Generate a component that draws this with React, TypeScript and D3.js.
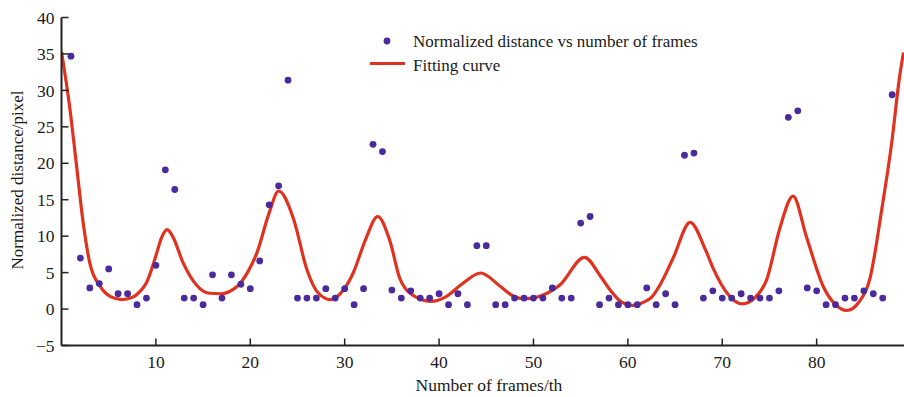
import * as d3 from 'd3';

// measured normalized distance for frames 1..88
const distances = [
  34.7, 7.0, 2.9, 3.5, 5.5, 2.1, 2.1, 0.6, 1.5, 6.0,
  19.1, 16.4, 1.5, 1.5, 0.6, 4.7, 1.5, 4.7, 3.4, 2.8,
  6.6, 14.3, 16.9, 31.4, 1.5, 1.5, 1.5, 2.8, 1.5, 2.8,
  0.6, 2.8, 22.6, 21.6, 2.6, 1.5, 2.5, 1.5, 1.5, 2.1,
  0.6, 2.1, 0.6, 8.7, 8.7, 0.6, 0.6, 1.5, 1.5, 1.5,
  1.5, 2.9, 1.5, 1.5, 11.8, 12.7, 0.6, 1.5, 0.6, 0.6,
  0.6, 2.9, 0.6, 2.1, 0.6, 21.1, 21.4, 1.5, 2.5, 1.5,
  1.5, 2.1, 1.5, 1.5, 1.5, 2.5, 26.3, 27.2, 2.9, 2.5,
  0.6, 0.6, 1.5, 1.5, 2.5, 2.1, 1.5, 29.4,
];

// fitting curve (frame, value)
const fitFrames = [
  0, 0.9, 1.6, 2.3, 3.0, 4.1, 5.2, 6.4, 7.5, 8.3, 9.0, 10.0, 10.6, 11.2, 11.8,
  12.9, 14.3, 15.5, 16.8, 18.6, 19.7, 20.7, 22.0, 23.0, 24.6, 26.0, 27.2, 28.5,
  29.8, 30.9, 32.2, 33.5, 34.8, 35.9, 37.6, 39.2, 40.6, 42.4, 44.4, 46.4, 47.7,
  48.9, 50.5, 52.8, 55.4, 57.1, 58.1, 59.3, 60.5, 61.6, 62.5, 63.4, 64.8, 66.6,
  68.2, 69.1, 70.5, 72.1, 73.5, 74.7, 76.1, 77.5, 78.9, 80.7, 82.0, 83.2, 84.5,
  85.7, 86.9, 87.95, 88.8, 89.2,
];
const fitValues = [
  35.3, 27.4, 19.6, 11.8, 6.3, 3.1, 1.7, 1.3, 1.6, 2.4, 3.6, 7.3, 9.8, 10.9, 9.9,
  6.3, 3.3, 2.2, 2.1, 3.1, 5.0, 7.7, 13.2, 16.2, 12.3, 5.4, 2.2, 1.3,
  2.5, 4.95, 9.5, 12.7, 9.3, 4.0, 1.6, 1.05, 1.6, 3.4, 4.95, 3.2, 1.9,
  1.4, 1.7, 3.3, 7.1, 4.5, 2.65, 1.0, 0.5, 0.9, 1.6, 3.3, 7.0, 11.9,
  8.2, 5.4, 2.2, 0.7, 1.6, 4.0, 11.1, 15.5, 10.0, 3.1, 0.6, -0.2, 1.0,
  4.5, 13.7, 22.8, 32.0, 35.2,
];

const xTicks = [10, 20, 30, 40, 50, 60, 70, 80];
const yTicks = [-5, 0, 5, 10, 15, 20, 25, 30, 35, 40];

const W = 904;
const H = 397;
const left = 61.5;
const right = 903.5;
const top = 17.5;
const bottom = 345.5;

const font = '"Liberation Serif", "Times New Roman", serif';
const dotColor = '#4a2a9c';
const lineColor = '#e0321f';
const axisColor = '#222';
const textColor = '#1a1a1a';

export default function App() {
  const x = d3.scaleLinear().domain([0, 89.2]).range([left, right]);
  const y = d3.scaleLinear().domain([-5, 40]).range([bottom, top]);

  const fit = fitFrames.map((f, i) => [f, fitValues[i]] as [number, number]);
  const line = d3
    .line<[number, number]>()
    .x((d) => x(d[0]))
    .y((d) => y(d[1]))
    .curve(d3.curveMonotoneX);

  return (
    <svg
      width={W}
      height={H}
      style={{ position: 'absolute', left: 0, top: 0, background: '#fff' }}
      fontFamily={font}
    >
      <defs>
        <clipPath id="plot">
          <rect x={left} y={top - 2} width={W - left} height={bottom - top + 2} />
        </clipPath>
      </defs>

      {/* fitting curve */}
      <path
        d={line(fit) || ''}
        fill="none"
        stroke={lineColor}
        strokeWidth={3.2}
        strokeLinejoin="round"
        clipPath="url(#plot)"
      />

      {/* data points */}
      {distances.map((d, i) => (
        <circle key={i} cx={x(i + 1)} cy={y(d)} r={3.4} fill={dotColor} />
      ))}

      {/* axes */}
      <line x1={left} x2={left} y1={top} y2={bottom} stroke={axisColor} strokeWidth={2} />
      <line x1={left} x2={W} y1={bottom} y2={bottom} stroke={axisColor} strokeWidth={2} />

      {yTicks.map((t) => (
        <g key={t}>
          <line x1={left} x2={left + 7} y1={y(t)} y2={y(t)} stroke={axisColor} strokeWidth={1.5} />
          <text x={left - 7} y={y(t)} dy="0.35em" textAnchor="end" fontSize={17.5} fill={textColor}>
            {t < 0 ? `\u2212${Math.abs(t)}` : t}
          </text>
        </g>
      ))}

      {xTicks.map((t) => (
        <g key={t}>
          <line x1={x(t)} x2={x(t)} y1={bottom} y2={bottom - 7} stroke={axisColor} strokeWidth={1.5} />
          <text x={x(t)} y={bottom + 22} textAnchor="middle" fontSize={17.5} fill={textColor}>
            {t}
          </text>
        </g>
      ))}

      {/* axis titles */}
      <text x={489} y={391} textAnchor="middle" fontSize={17.5} fill={textColor}>
        Number of frames/th
      </text>
      <text
        transform="translate(23,180) rotate(-90)"
        textAnchor="middle"
        fontSize={17}
        fill={textColor}
      >
        Normalized distance/pixel
      </text>

      {/* legend */}
      <circle cx={387} cy={41} r={3.4} fill={dotColor} />
      <text x={413} y={47} fontSize={17} fill={textColor}>
        Normalized distance vs number of frames
      </text>
      <line x1={370} x2={405} y1={63.5} y2={63.5} stroke={lineColor} strokeWidth={3.2} />
      <text x={413} y={70.5} fontSize={17} fill={textColor}>
        Fitting curve
      </text>
    </svg>
  );
}
